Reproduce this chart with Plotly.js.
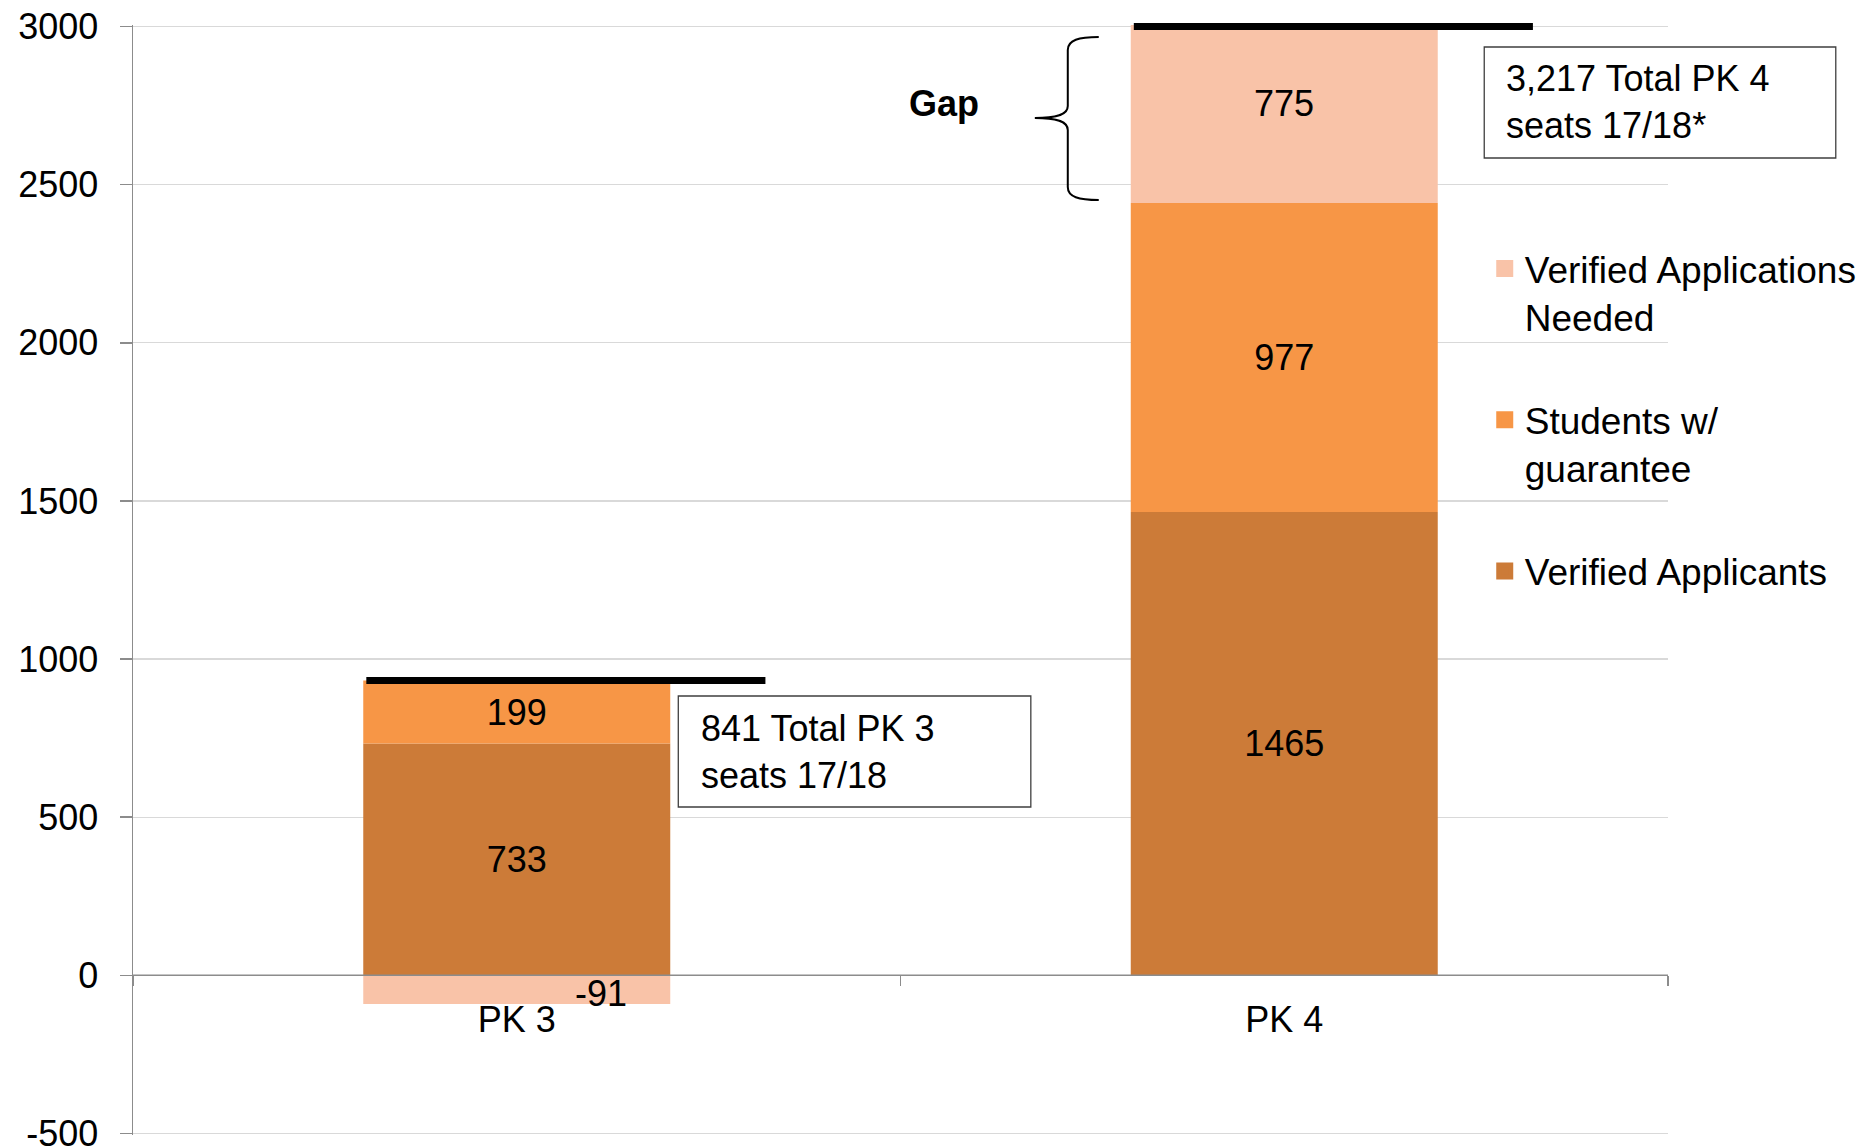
<!DOCTYPE html>
<html>
<head>
<meta charset="utf-8">
<script src="https://cdn.plot.ly/plotly-3.0.1.min.js"></script>
<style>html,body{margin:0;padding:0;background:#fff;}#chart{width:1874px;height:1147px;}</style>
</head>
<body>
<div id="chart"></div>
<script>
// ---- data ----
const categories = ['PK 3', 'PK 4'];
const verifiedApplicants = [733, 1465];
const studentsGuarantee = [199, 977];
const applicationsNeeded = [-91, 775];
const seriesNames = ['Verified Applicants', 'Students w/<br>guarantee', 'Verified Applications<br>Needed'];
const seriesColors = ['#CC7B38', '#F79646', '#F9C3A8'];
const yTickVals = [-500, 0, 500, 1000, 1500, 2000, 2500, 3000];
const yTickText = ['-500', '0', '500', '1000', '1500', '2000', '2500', '3000'];
const seatNotes = ['841 Total PK 3<br>seats 17/18', '3,217 Total PK 4<br>seats 17/18*'];
const gapLabel = 'Gap';

// ---- layout geometry ----
const W = 1874, H = 1147, L = 133, R = 204, T = 25, B = 12;
const PW = W - L - R, PH = H - T - B;
const yMin = -500, yMax = 3000;
const yRange = [yMin - 5, yMax + 5];
const FONT = 'Liberation Sans, Arial, sans-serif';
const px2x = p => (p - L) / PW;
const py2y = p => (H - B - p) / PH;
const xPaper = v => (v + 0.5) / categories.length;
const yPaper = v => (v - yRange[0]) / (yRange[1] - yRange[0]);

// bar segment labels: plain inside text where the segment fits, annotation otherwise
const annotations = [];
function labelTexts(vals, bases) {
  return vals.map((v, i) => {
    const top = bases[i] + v;
    if (v < 0) {
      annotations.push({xref: 'x', yref: 'y', x: categories[i], y: v / 2, xshift: 84, yshift: -4, showarrow: false,
        text: String(v), font: {family: FONT, size: 36, color: '#000'}});
      return '';
    }
    if (top > yMax) {
      annotations.push({xref: 'x', yref: 'y', x: categories[i], y: (bases[i] + yMax) / 2, yshift: 11, showarrow: false,
        text: String(v), font: {family: FONT, size: 36, color: '#000'}});
      return '';
    }
    return String(v);
  });
}
const zeros = categories.map(() => 0);
const base2 = verifiedApplicants.slice();
const base3 = verifiedApplicants.map((v, i) => v + studentsGuarantee[i]);

const barBase = {
  type: 'bar', x: categories, width: 0.4,
  textposition: 'inside', insidetextanchor: 'middle', textangle: 0,
  constraintext: 'none', cliponaxis: true,
  textfont: {family: FONT, size: 36, color: '#000'},
  hoverinfo: 'skip', showlegend: false
};
const seriesValues = [verifiedApplicants, studentsGuarantee, applicationsNeeded];
const seriesBases = [zeros, base2, base3];
const groups = ['a', 'b', 'c'];
const traces = seriesValues.map((vals, k) => Object.assign({}, barBase, {
  name: seriesNames[k], y: vals, text: labelTexts(vals, seriesBases[k]), marker: {color: seriesColors[k]}, legendgroup: groups[k]
}));
// legend entries (no bars drawn; larger legend swatch)
seriesValues.forEach((vals, k) => traces.push({
  type: 'bar', x: categories, y: categories.map(() => null), name: seriesNames[k], legendgroup: groups[k], legendrank: 3 - k,
  showlegend: true, hoverinfo: 'skip', marker: {color: seriesColors[k], line: {color: seriesColors[k], width: 5}}
}));

const shapes = [];
// horizontal axis line at y = 0
shapes.push({type: 'line', xref: 'paper', yref: 'y', x0: 0, x1: 1, y0: 0, y1: 0, layer: 'above', line: {color: '#8c8c8c', width: 1.5}});
// total seat lines on top of each stack
categories.forEach((c, i) => {
  const total = verifiedApplicants[i] + studentsGuarantee[i] + Math.max(applicationsNeeded[i], 0);
  const yv = yPaper(Math.min(total, yMax));
  shapes.push({type: 'line', xref: 'paper', yref: 'paper', x0: xPaper(i - 0.196), x1: xPaper(i + 0.324), y0: yv, y1: yv, line: {color: '#000', width: 7}});
});
// note boxes
const boxes = [[679, 696, 1032, 807], [1486, 47, 1838, 158]];
boxes.forEach(b => shapes.push({type: 'rect', xref: 'paper', yref: 'paper', x0: px2x(b[0]), x1: px2x(b[2]), y0: py2y(b[3]), y1: py2y(b[1]), line: {color: '#3f3f3f', width: 1.3}, fillcolor: 'rgba(255,255,255,0)'}));
// brace
const P = (x, y) => px2x(x).toFixed(5) + ',' + py2y(y).toFixed(5);
const bracePath = 'M' + P(1100, 37) + ' C' + P(1080, 37) + ' ' + P(1069, 40) + ' ' + P(1069, 50) +
  ' L' + P(1069, 106) + ' C' + P(1069, 114) + ' ' + P(1060, 118) + ' ' + P(1036, 118) +
  ' C' + P(1060, 118) + ' ' + P(1069, 122) + ' ' + P(1069, 130) +
  ' L' + P(1069, 187) + ' C' + P(1069, 197) + ' ' + P(1080, 200) + ' ' + P(1100, 200);
shapes.push({type: 'path', xref: 'paper', yref: 'paper', path: bracePath, line: {color: '#000', width: 2}});

annotations.push(
  {xref: 'paper', yref: 'paper', x: px2x(700), y: py2y(751.5), xanchor: 'left', yanchor: 'middle', align: 'left', showarrow: false, text: seatNotes[0], font: {family: FONT, size: 36, color: '#000'}},
  {xref: 'paper', yref: 'paper', x: px2x(1506), y: py2y(102.5), xanchor: 'left', yanchor: 'middle', align: 'left', showarrow: false, text: seatNotes[1], font: {family: FONT, size: 36, color: '#000'}},
  {xref: 'paper', yref: 'paper', x: px2x(945), y: py2y(103.5), xanchor: 'center', yanchor: 'middle', showarrow: false, text: '<b>' + gapLabel + '</b>', font: {family: FONT, size: 36, color: '#000'}}
);

const layout = {
  width: W, height: H,
  margin: {l: L, r: R, t: T, b: B, pad: 0},
  paper_bgcolor: '#fff', plot_bgcolor: '#fff',
  barmode: 'relative', bargap: 0.6,
  font: {family: FONT, size: 36, color: '#000'},
  showlegend: true,
  legend: {x: px2x(1486.5), y: py2y(238), xanchor: 'left', yanchor: 'top', bgcolor: 'rgba(0,0,0,0)',
    traceorder: 'grouped', tracegroupgap: 52, valign: 'top', font: {family: FONT, size: 37, color: '#000'}},
  xaxis: {type: 'category', range: [-0.5, categories.length - 0.5], anchor: 'free', position: yPaper(0),
    showline: false, ticks: 'outside', tickson: 'boundaries', ticklen: 10, tickwidth: 1.5, tickcolor: '#8c8c8c',
    showgrid: false, zeroline: false, tickfont: {family: FONT, size: 36, color: '#000'}, ticklabelstandoff: 20, layer: 'above traces'},
  yaxis: {range: yRange, tickvals: yTickVals, ticktext: yTickText, showgrid: true, gridcolor: '#d9d9d9', gridwidth: 1.3,
    zeroline: false, showline: true, linecolor: '#8c8c8c', linewidth: 1.5, ticks: 'outside', ticklen: 12, tickwidth: 1.5, tickcolor: '#8c8c8c',
    tickfont: {family: FONT, size: 36, color: '#000'}, ticklabelstandoff: 14, ticklabeloverflow: 'allow'},
  shapes: shapes, annotations: annotations
};
Plotly.newPlot('chart', traces, layout, {staticPlot: true, displayModeBar: false});
</script>
</body>
</html>
